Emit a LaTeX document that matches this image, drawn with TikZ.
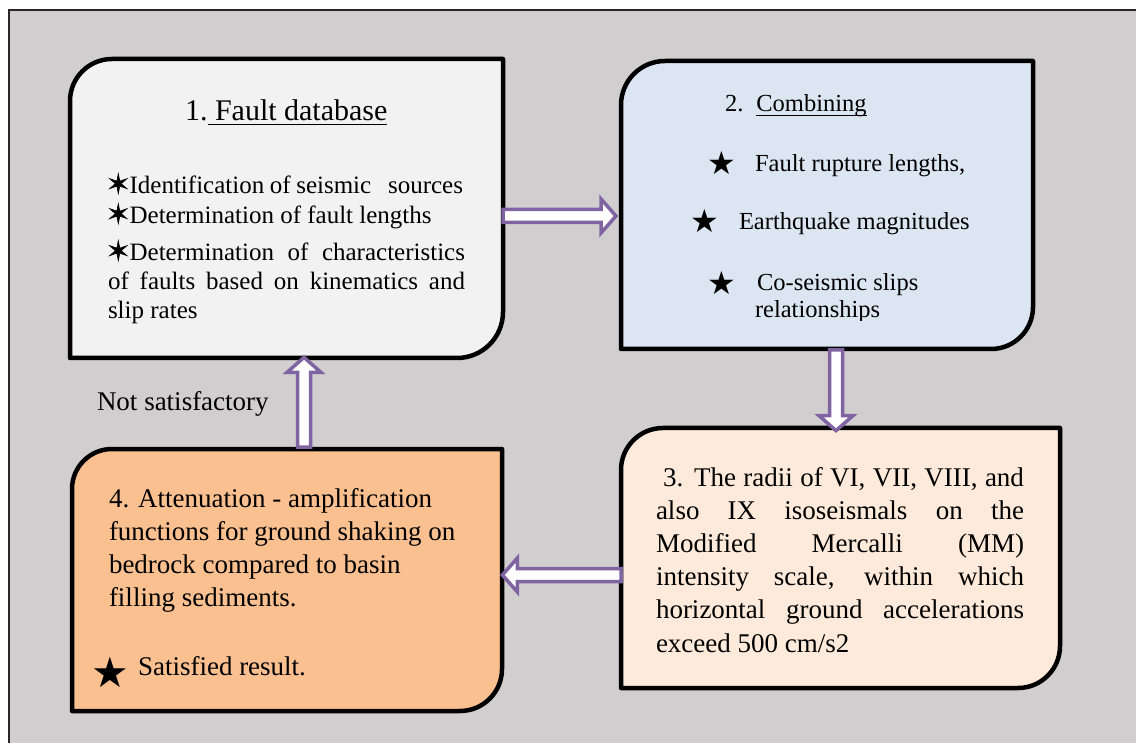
\documentclass[tikz,border=0pt]{standalone}
\usepackage{fontspec}
\setmainfont{Liberation Serif}
\newfontfamily\symfont{DejaVu Sans}
\newfontfamily\symheavy[FakeBold=2]{DejaVu Sans}
\usetikzlibrary{calc}

\definecolor{pagegray}{RGB}{208,206,207}
\definecolor{fillone}{RGB}{242,242,242}
\definecolor{filltwo}{RGB}{220,230,242}
\definecolor{fillthree}{RGB}{253,234,218}
\definecolor{fillfour}{RGB}{250,192,144}
\definecolor{arrowpurple}{RGB}{128,100,162}

% underline drawn as a real rule so its weight suits the large type
\newcommand\ulin[1]{\setbox0\hbox{#1}\rlap{\rule[-4pt]{\wd0}{1.4pt}}\box0}
\newcommand\fsz[1]{\fontsize{#1}{#1}\selectfont}
% six-pointed bullet of the first box
\newcommand\sixstar{\raisebox{0.5pt}{\symheavy\fsz{27}✶}}

% box with the top-left and bottom-right corners rounded
\newcommand\diagbox[4]{%
  \draw[boxline, fill=#2]
    (#1.south west) -- ($(#1.north west)+(0,#3)$)
    .. controls ($(#1.north west)+(0,0.4477*#3)$) and ($(#1.north west)+(0.4477*#3,0)$)
    .. ($(#1.north west)+(#3,0)$)
    -- (#1.north east) -- ($(#1.south east)+(0,-#4)$)
    .. controls ($(#1.south east)+(0,-0.4477*#4)$) and ($(#1.south east)+(-0.4477*#4,0)$)
    .. ($(#1.south east)+(-#4,0)$)
    -- cycle;}

\tikzset{
  boxline/.style={draw=black, line width=4.5pt, line join=round},
  area/.style={inner sep=0pt, outer sep=0pt, draw=none, anchor=north west},
  txt/.style={inner sep=0pt, outer sep=0pt, anchor=base west, text=black},
  txtA/.style={txt, font=\fsz{25}},
  txtB/.style={txt, font=\fsz{24.5}},
  txtC/.style={txt, font=\fsz{27}},
  starB/.style={inner sep=0pt, anchor=center, font=\symfont\fsz{32}},
  starD/.style={inner sep=0pt, anchor=center, font=\symfont\fsz{42}},
  fatarrow/.style={draw=arrowpurple, fill=white, line width=3.5pt, line join=miter, miter limit=10,
    to path={let \p1=(\tikztostart), \p2=(\tikztotarget), \p3=($(\p2)!15pt!(\p1)$) in
      ($(\p1)!6.5pt!90:(\p2)$) -- ($(\p3)!6.5pt!-90:(\p1)$) -- ($(\p3)!17pt!-90:(\p1)$)
      -- (\p2) -- ($(\p3)!17pt!90:(\p1)$) -- ($(\p3)!6.5pt!90:(\p1)$)
      -- ($(\p1)!6.5pt!-90:(\p2)$) -- cycle}}
}

\begin{document}
\begin{tikzpicture}[x=1pt, y=-1pt]
  \useasboundingbox (0,0) rectangle (1136,743);
  \fill[white] (0,0) rectangle (1136,743);
  \fill[pagegray] (9,10) rectangle (1136,743);
  \draw[line width=2pt, black!85] (1136,10) -- (9,10) -- (9,743);

  % box areas
  \node[area, minimum width=433pt, minimum height=299pt] (b1) at (70,59) {};
  \node[area, minimum width=412pt, minimum height=288pt] (b2) at (621,61) {};
  \node[area, minimum width=439pt, minimum height=260pt] (b3) at (621,428) {};
  \node[area, minimum width=430pt, minimum height=262pt] (b4) at (72,449) {};

  \diagbox{b1}{fillone}{42}{46}
  \diagbox{b2}{filltwo}{44}{42}
  \diagbox{b3}{fillthree}{42}{42}
  \diagbox{b4}{fillfour}{40}{42}

  % 1. Fault database
  \node[txt, font=\fsz{30}] (t1) at (185,121) {1.\ulin{\ Fault database}};
  \node[txtA] (t1a) at (107,194) {\makebox[356pt][s]{\sixstar Identification of seismic \ \ sources}};
  \node[txtA] (t1b) at (107,224) {\sixstar Determination of fault lengths};
  \node[txtA] (t1c) at (107,261) {\makebox[358pt][s]{\sixstar Determination of characteristics}};
  \node[txtA] (t1d) at (108,290) {\makebox[357pt][s]{of faults based on kinematics and}};
  \node[txtA] (t1e) at (108,319) {slip rates};

  % 2. Combining
  \node[txtB] (t2) at (725,112) {2.\hspace{13pt}\ulin{Combining}};
  \node[starB] (s2a) at (722,163) {★};
  \node[txtB] (t2a) at (755,172) {Fault rupture lengths,};
  \node[starB] (s2b) at (705,221) {★};
  \node[txtB] (t2b) at (739,230) {Earthquake magnitudes};
  \node[starB] (s2c) at (722,283) {★};
  \node[txtB] (t2c) at (757,291) {Co-seismic slips};
  \begin{scope}
    \clip (600,0) rectangle (1040,321);
    \node[txtB] (t2d) at (755,318) {relationships};
  \end{scope}

  % 3. Isoseismal radii
  \node[txtC] (t3a) at (663,486) {\makebox[361pt][s]{3. The radii of VI, VII, VIII, and}};
  \node[txtC] (t3b) at (656,519) {\makebox[368pt][s]{also IX isoseismals on the}};
  \node[txtC] (t3c) at (656,552) {\makebox[368pt][s]{Modified Mercalli (MM)}};
  \node[txtC] (t3d) at (656,585) {\makebox[368pt][s]{intensity scale, within which}};
  \node[txtC] (t3e) at (656,618) {\makebox[368pt][s]{horizontal ground accelerations}};
  \node[txtC] (t3f) at (656,652) {exceed 500 cm/s2};

  % 4. Attenuation - amplification
  \node[txtC] (t4a) at (109,507) {4. Attenuation - amplification};
  \node[txtC] (t4b) at (109,540) {functions for ground shaking on};
  \node[txtC] (t4c) at (109,573) {bedrock compared to basin};
  \node[txtC] (t4d) at (109,606) {filling sediments.};
  \node[starD] (s4) at (110,672) {★};
  \node[txtC] (t4e) at (138,675) {Satisfied result.};

  \node[txtC] (ns) at (97,410) {Not satisfactory};

  % flow arrows
  \coordinate (p12) at ($(b1.east)+(0,7.5)$);
  \draw[fatarrow] (p12) to ($(b2.west |- p12)+(-5,0)$);
  \coordinate (p23) at ($(b2.south)+(9,1)$);
  \draw[fatarrow] (p23) to ($(p23 |- b3.north)+(0,2.6)$);
  \coordinate (p34) at ($(b3.west)+(0,17)$);
  \draw[fatarrow] (p34) to ($(p34 -| b4.east)+(0.4,0)$);
  \coordinate (p41) at ($(b4.north)+(17,-2)$);
  \draw[fatarrow] (p41) to ($(p41 |- b1.south)+(0,-0.6)$);
\end{tikzpicture}
\end{document}
